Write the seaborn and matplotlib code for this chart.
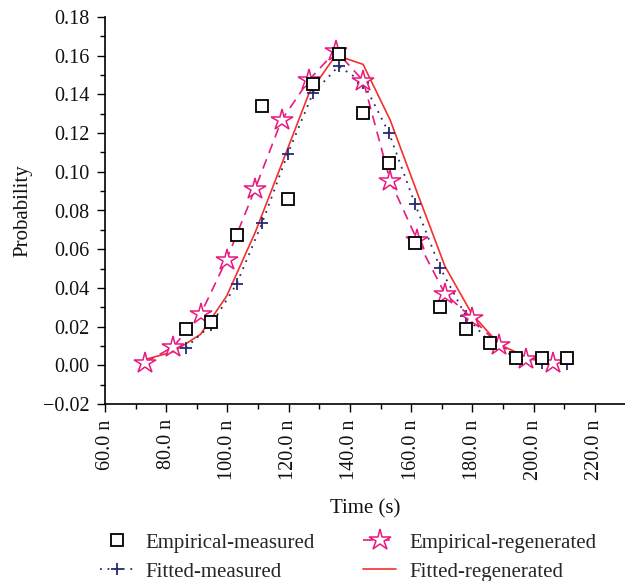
import matplotlib
matplotlib.use("Agg")
import matplotlib.pyplot as plt
from matplotlib.ticker import MultipleLocator, FixedLocator
import seaborn as sns

# Empirical distribution of the measured data
em_time = [86.4, 94.6, 103.0, 111.3, 119.6, 127.9, 136.3, 144.4, 152.8, 161.2,
           169.4, 177.8, 185.7, 194.3, 202.7, 210.9]
em_prob = [0.0187, 0.0225, 0.0672, 0.1340, 0.0859, 0.1454, 0.1607, 0.1306, 0.1045,
           0.0632, 0.0299, 0.0187, 0.0113, 0.0038, 0.0040, 0.0038]

# Fitted distribution of the measured data
fm_time = em_time
fm_prob = [0.0091, 0.0208, 0.0421, 0.0735, 0.1091, 0.1406, 0.1546, 0.1460, 0.1198,
           0.0835, 0.0505, 0.0256, 0.0117, 0.0038, 0.0014, 0.0005]

# Empirical distribution of the regenerated data
er_time = [73.1, 82.3, 91.2, 99.7, 109.0, 117.7, 126.6, 135.4, 144.3, 153.1,
           162.0, 171.0, 179.7, 188.7, 197.5, 206.4]
er_prob = [0.0014, 0.0096, 0.0263, 0.0546, 0.0911, 0.1268, 0.1474, 0.1625, 0.1471,
           0.0954, 0.0645, 0.0370, 0.0246, 0.0103, 0.0035, 0.0014]

# Fitted distribution of the regenerated data
fr_time = er_time
fr_prob = [0.0030, 0.0070, 0.0160, 0.0357, 0.0685, 0.1040, 0.1405, 0.1603, 0.1555,
           0.1268, 0.0890, 0.0512, 0.0268, 0.0108, 0.0044, 0.0018]

x_ticks = [60, 80, 100, 120, 140, 160, 180, 200, 220]
x_tick_labels = ["60.0 n", "80.0 n", "100.0 n", "120.0 n", "140.0 n",
                 "160.0 n", "180.0 n", "200.0 n", "220.0 n"]

sns.set_style("ticks")
plt.rcParams["font.family"] = ["Liberation Serif", "DejaVu Serif"]
plt.rcParams["axes.unicode_minus"] = True

fig = plt.figure(figsize=(6.25, 5.81), dpi=100)
ax = fig.add_axes([105 / 625, 1 - 404 / 581, 520 / 625, (404 - 17) / 581])

navy = "#262a72"
pink = "#e8197f"
red = "#f2302e"

sns.lineplot(x=fm_time, y=fm_prob, ax=ax, color=navy, linestyle=(0, (1, 3.2)),
             linewidth=1.3, marker="+", markersize=9, markeredgewidth=1.3,
             markeredgecolor=navy, markerfacecolor=navy,
             label="Fitted-measured", zorder=3)
sns.lineplot(x=fr_time, y=fr_prob, ax=ax, color=red, linewidth=1.2,
             label="Fitted-regenerated", zorder=2)
sns.lineplot(x=er_time, y=er_prob, ax=ax, color=pink, linestyle=(0, (6, 4)),
             linewidth=1.2, marker="*", markersize=16, markerfacecolor="white",
             markeredgecolor=pink, markeredgewidth=1.1,
             label="Empirical-regenerated", zorder=4)
sns.lineplot(x=em_time, y=em_prob, ax=ax, color="black", linestyle="none",
             marker="s", markersize=8.5, markerfacecolor="white",
             markeredgecolor="black", markeredgewidth=1.3,
             label="Empirical-measured", zorder=5)

handles, labels = ax.get_legend_handles_labels()
ax.legend().remove()
lookup = dict(zip(labels, handles))
order = ["Empirical-measured", "Fitted-measured", "Empirical-regenerated", "Fitted-regenerated"]

ax.set_xlim(60, 229.8)
ax.set_ylim(-0.02, 0.18)
ax.xaxis.set_major_locator(FixedLocator(x_ticks))
ax.set_xticklabels(x_tick_labels, rotation=90)
ax.xaxis.set_minor_locator(MultipleLocator(10))
ax.yaxis.set_major_locator(MultipleLocator(0.02))
ax.yaxis.set_minor_locator(MultipleLocator(0.01))
ax.yaxis.set_major_formatter(plt.FuncFormatter(lambda v, p: f"{v:.2f}".replace("-", "\u2212")))

ax.tick_params(axis="both", which="major", direction="out", length=6, width=1.0,
               labelsize=14.5, color="black", labelcolor="#111111", pad=5)
ax.tick_params(axis="both", which="minor", direction="out", length=3.5, width=1.0,
               color="black")
for side in ["top", "right"]:
    ax.spines[side].set_visible(False)
for side in ["left", "bottom"]:
    ax.spines[side].set_linewidth(1.2)
    ax.spines[side].set_color("black")

ax.set_xlabel("Time (s)", fontsize=15, labelpad=14, color="#111111")
ax.set_ylabel("Probability", fontsize=15, labelpad=8, color="#111111")

fig.legend([lookup[k] for k in order], order, loc="upper left",
           bbox_to_anchor=(100 / 625, 1 - 533 / 581), ncol=2, frameon=False,
           fontsize=15, handlelength=1.6, handletextpad=0.6, columnspacing=2.3,
           borderpad=0, borderaxespad=0, labelspacing=0.45)

fig.savefig("out.png", dpi=100, facecolor="white")
